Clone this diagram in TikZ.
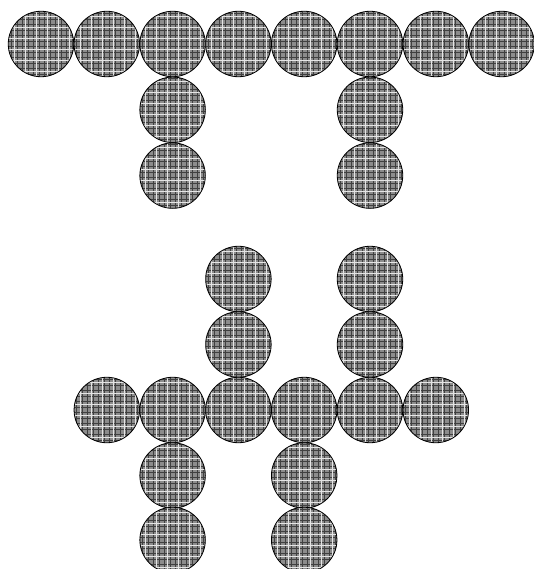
\documentclass[tikz,border=0pt]{standalone}
\usetikzlibrary{calc}
\definecolor{ballfill}{HTML}{8C8C8C}
\tikzset{
  ball/.style={circle, draw=black, line width=0.8pt, fill=ballfill,
    minimum size=65.5pt, inner sep=0pt, outer sep=0pt,
    path picture={
      \foreach \d in {-30,-24,-19,-13,-8,-2,3,9,14,20,25,31}{
        \draw[black!75, line width=0.7pt]
          ($(path picture bounding box.center)+(\d pt,-40pt)$) -- ++(0,80pt);
        \draw[black!75, line width=0.7pt]
          ($(path picture bounding box.center)+(-40pt,\d pt)$) -- ++(80pt,0);
      }
      \foreach \d in {-27,-16,-5,6,17,28}{
        \draw[white!80!gray, line width=0.6pt]
          ($(path picture bounding box.center)+(\d pt,-40pt)$) -- ++(0,80pt);
        \draw[white!80!gray, line width=0.6pt]
          ($(path picture bounding box.center)+(-40pt,\d pt)$) -- ++(80pt,0);
      }
    }}
}
\begin{document}
\begin{tikzpicture}[x=1pt,y=-1pt]
\useasboundingbox (0,0) rectangle (533,569);
% top row
\node[ball] (t1) at (41,44) {};
\node[ball] (t2) at (106.8,44) {};
\node[ball] (t3) at (172.6,44) {};
\node[ball] (t4) at (238.4,44) {};
\node[ball] (t5) at (304.2,44) {};
\node[ball] (t6) at (370,44) {};
\node[ball] (t7) at (435.8,44) {};
\node[ball] (t8) at (501.6,44) {};
% top columns
\node[ball] (ta1) at (172.6,109.8) {};
\node[ball] (ta2) at (172.6,175.6) {};
\node[ball] (tb1) at (370,109.8) {};
\node[ball] (tb2) at (370,175.6) {};
% bottom group upper columns
\node[ball] (ua2) at (238.4,279) {};
\node[ball] (ua1) at (238.4,344.5) {};
\node[ball] (ub2) at (370,279) {};
\node[ball] (ub1) at (370,344.5) {};
% bottom row
\node[ball] (b1) at (106.8,410) {};
\node[ball] (b2) at (172.6,410) {};
\node[ball] (b3) at (238.4,410) {};
\node[ball] (b4) at (304.2,410) {};
\node[ball] (b5) at (370,410) {};
\node[ball] (b6) at (435.8,410) {};
% lower columns
\node[ball] (la1) at (172.6,475.5) {};
\node[ball] (la2) at (172.6,540) {};
\node[ball] (lb1) at (304.2,475.5) {};
\node[ball] (lb2) at (304.2,540) {};
\end{tikzpicture}
\end{document}
